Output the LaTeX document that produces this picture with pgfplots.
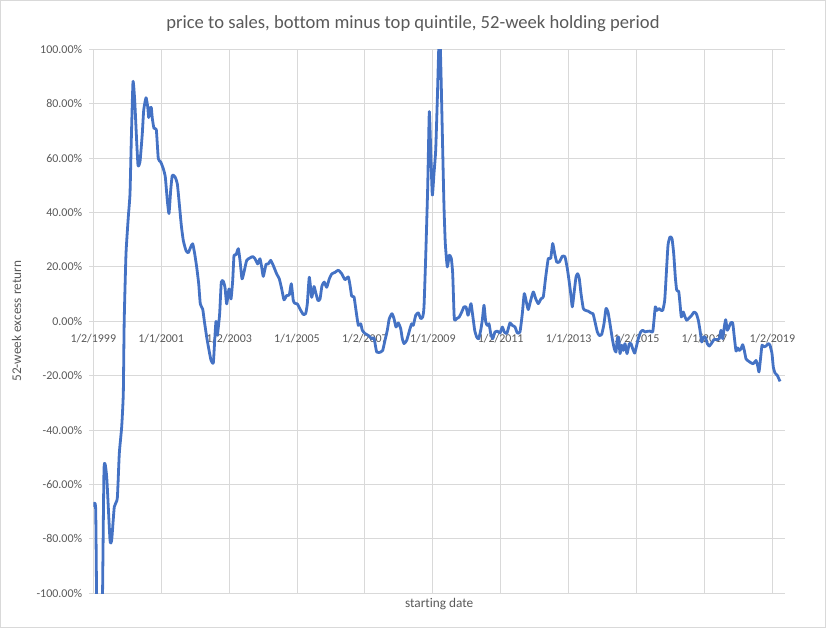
\documentclass[border=0pt]{standalone}
\usepackage{fontspec}
\setmainfont[Ligatures=NoCommon]{Carlito}
\usepackage{pgfplots}
\pgfplotsset{compat=1.18}
\usepackage{pgfplotstable}
\definecolor{linec}{HTML}{4472C4}
\definecolor{gridc}{HTML}{D9D9D9}
\definecolor{txtc}{HTML}{595959}
% px = horizontal position (93.3 = 1/2/1999, 67.9 per two years), val = excess return in %
\pgfplotstableread{
px val
93.3 -68.2
95.7 -69.4
97.5 -130
101.5 -130
104 -54.7
106.7 -57.2
110 -80.4
111.7 -80.4
114.3 -68.2
117.3 -65.1
119.3 -48.6
121.7 -38.8
123.3 -26.6
124.2 0
126 24.8
128.3 38.3
130 46.9
131.3 66.6
133 88.1
134.7 81.3
136.3 69
138 57.4
140 58.6
142.3 69
143.7 77.6
146 82.2
147.7 78.9
148.7 74.9
150 78.3
151.3 78.6
152.3 74.6
154 70.9
156.3 70.5
158.3 59.8
160.7 58.6
163.3 56.1
165.3 53.1
167.3 44.5
169 39.6
170.7 48.2
172.3 53.7
175 53.1
177.3 50.6
179.3 43.2
181.3 35.3
183.3 29.7
186 26
188.3 25.2
190.7 27.3
192.7 28.5
194.7 24.8
196.7 19.9
198.7 13.8
200.3 6.4
202.7 4.5
204.3 0.2
206.7 -5.8
209 -10.6
211 -14.3
213.3 -15.3
214.7 -7
216 0
217.3 -5.1
218.7 -0.9
219.7 3
221.3 14.4
223.3 14.7
225 12.5
226.7 6.4
229 11.9
231 8.2
232.7 15
234 24.2
236 24.4
238.3 26.7
240 22.4
242 15.6
244 18.1
246.7 22.4
250 23.3
252.7 23.8
255 23
257.7 21.1
260 23
261.7 19.9
263.3 16.5
266 20.9
268.3 21.1
270.7 22.4
273.3 20.5
276.7 17.4
279.3 15.6
281.7 11.9
284 7.9
286.7 9.5
289.3 9.7
291.3 13.8
293.3 7.6
295 6.6
297.3 6.4
300 4.5
303.3 2.5
305.7 2.9
307.3 6.4
309.3 16.2
311.7 8.8
314 12.8
316 10.1
318 7.6
320 8.2
322 13.1
324.3 14.4
326.7 12.5
329.3 15.6
331.7 17.4
335 18
338.3 18.8
341.7 17.5
345 15.3
348.3 16.3
350 13.3
351.7 9.2
354 9
356 4
358.3 -1.5
360.7 -0.9
362.3 -3.3
365 -4.5
368.3 -5.2
371.7 -6.4
374 -6.1
376.7 -11.3
380.7 -11.3
382.7 -10.7
385 -7
387.3 -3.3
389.3 1
392 2.8
394 1
396 -2.1
398.3 -0.6
400.7 -2.7
402.3 -6.4
404 -8.2
406.7 -7
410 -2.7
411.7 -0.9
413.3 -1.5
415.7 2.2
418.3 3.1
420.7 1
422.7 1.6
424 5.3
425.7 23.7
427.7 49.4
429.3 77.1
430.7 62.9
432.3 46.4
434 54.4
435.7 62.9
437.3 81.3
438.7 99.8
440 104
441 91.2
442.7 62.9
444 42.1
445.3 28.6
447.3 20
449.3 24.3
451.3 23.1
452.7 17.5
454.3 1
456.7 1
459.3 1.6
461.7 3.4
464 5.3
466 5.3
468 2.2
469.3 4
471 6.5
472.7 2.2
474.7 -3.3
476.7 -5.8
478.7 -6.4
480.7 -3.3
482.3 0.4
484 5.9
485.7 -0.2
487.3 -1.5
489 -0.9
490.7 -4.5
492.7 -6.4
495 -3.9
497.3 -3.6
500 -4.3
502.3 -2.1
504.3 -3.9
506.7 -4.5
508.3 -2.7
510 -0.6
512.3 -1.5
515 -2.1
517.3 -4.3
520 -3.9
522.3 2.8
524.3 10.2
526.7 6.5
528.3 4.3
530.7 7.7
533.3 10.8
535.7 8.3
538.3 6.5
541 8.3
543.3 9
545.7 16.3
548.3 23.1
550.7 23.1
552.7 28.6
554.7 24.9
556.7 21.8
559.3 21.8
562.3 23.9
565 23.7
567.3 19.4
569 15.1
570.7 10.2
572.3 5.3
574 10.2
576 16.3
577.7 17.5
579.3 15.7
581 10.2
583.3 4.7
585.7 4
588.3 3.7
590.7 3.1
593 2.8
595 -0.2
597.3 -3.9
599.3 -5.2
601.7 -4.8
604 -0.9
606 4.7
608 3.4
610 -0.9
612.3 -6.4
614.3 -10.1
616 -11.3
617.3 -6.4
618.7 -5.8
620 -11.9
621.7 -8.8
623.3 -10.7
625 -8.2
627 -11.9
629.3 -8.2
631 -8.2
632.7 -10.1
634.7 -11.7
636.7 -8.8
638.7 -5.8
640.7 -3.9
642.7 -3.3
645 -3.9
647.3 -3.7
650 -3.6
652.7 -3.9
654 0.4
655.3 5.3
657 4
659 4.7
661 4
662.7 4
664.7 7.7
666.3 17.5
668 28
670 31
672 30.4
673.7 24.9
675.3 16.3
676.7 11.4
678.7 11
680 6.5
681.3 1.6
683.3 3.4
685 1.6
686.7 0.4
689 1.2
691.7 2.2
694 3.4
696.3 2.8
698.3 0.4
700 -3.3
701.7 -7.6
703.3 -5.8
705.3 -5.8
707.3 -8.2
709.3 -9.1
711.7 -8
714 -6.7
716.7 -6.7
719.3 -6.4
721 -3.3
722.7 -6.4
724.3 -2.1
725.7 0.6
727.3 -3.3
729 -2.1
730.7 -0.6
732.7 -0.6
734.3 -5.8
736 -10.9
737.7 -9.8
739.3 -10.7
741 -10.1
742.7 -8.6
744.3 -10.7
746 -13.8
748.3 -14.6
750.7 -15.2
753.3 -15.6
756 -14.4
757.7 -16.4
759 -18.6
760.7 -13.1
762 -8.8
764 -9.4
766 -9.1
768.3 -8.2
770 -8.8
772 -11.9
773.3 -16.8
775 -19
777.3 -19.9
780 -22.1
}\ps
\begin{document}
\begin{tikzpicture}
\path[use as bounding box] (0,0) rectangle (826bp,628bp);
\draw[gridc, line width=1bp] (0.5bp,0.5bp) rectangle (825.5bp,627.5bp);
\begin{axis}[
  at={(93.3bp,34.7bp)}, anchor=south west,
  scale only axis, width=691.7bp, height=544bp,
  xmin=1999, xmax=2019.374, ymin=-100, ymax=100,
  axis x line=middle, axis y line=left,
  axis line style={-, draw=gridc, line width=1bp},
  every inner x axis line/.append style={-},
  every outer y axis line/.append style={-},
  hide obscured x ticks=false, hide obscured y ticks=false,
  xtick={1999,2001,2003,2005,2007,2009,2011,2013,2015,2017,2019},
  xticklabels={1/2/1999,1/1/2001,1/2/2003,1/1/2005,1/2/2007,1/1/2009,1/2/2011,1/1/2013,1/2/2015,1/1/2017,1/2/2019},
  ytick={-100,-80,-60,-40,-20,0,20,40,60,80,100},
  yticklabels={-100.00\%,-80.00\%,-60.00\%,-40.00\%,-20.00\%,0.00\%,20.00\%,40.00\%,60.00\%,80.00\%,100.00\%},
  grid=major, major grid style={draw=gridc, line width=1bp},
  xtick style={draw=none},
  ytick style={draw=gridc, line width=1bp},
  tick align=outside, major tick length=4bp,
  xticklabel style={font=\fontsize{12}{14}\selectfont, text=txtc, anchor=north, inner sep=0pt, yshift=-9bp},
  yticklabel style={font=\fontsize{12}{14}\selectfont, text=txtc, anchor=east, inner sep=0pt, xshift=-7bp},
  title={price to sales, bottom minus top quintile, 52-week holding period},
  every axis title/.style={at={(axis description cs:0.4622,1.0386)}, anchor=base, font=\fontsize{18.67}{22}\selectfont, text=txtc, inner sep=0pt},
  xlabel={starting date},
  every axis x label/.style={at={(axis description cs:0.5,-0.027)}, anchor=base, font=\fontsize{13.33}{16}\selectfont, text=txtc, inner sep=0pt},
  ylabel={52-week excess return},
  every axis y label/.style={at={(axis description cs:-0.111,0.5)}, rotate=90, anchor=center, font=\fontsize{13.33}{16}\selectfont, text=txtc, inner sep=0pt},
]
\addplot[linec, line width=2.8bp, line join=round, smooth, tension=0.3] table[x expr={1999+(\thisrow{px}-93.3)/33.95}, y=val] {\ps};
\end{axis}
\end{tikzpicture}
\end{document}
